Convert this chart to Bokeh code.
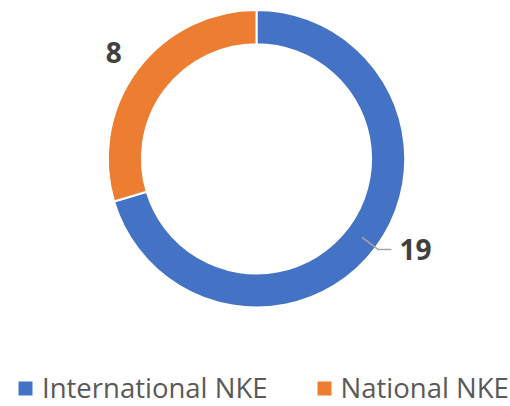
import numpy as np
from bokeh.plotting import figure
from bokeh.models import Range1d, Legend, LegendItem, ColumnDataSource
from bokeh.core.properties import value
from bokeh.embed import file_html
from bokeh.resources import INLINE

categories = ["International NKE", "National NKE"]
values = [19, 8]
colors = ["#4472C4", "#ED7D31"]

INNER_R = 114.6
OUTER_R = 148.7

total = float(sum(values))
cw_end = np.cumsum(values) / total * 2 * np.pi
cw_start = cw_end - np.array(values) / total * 2 * np.pi
start = np.pi / 2 - cw_end
end = np.pi / 2 - cw_start
mid = (start + end) / 2

p = figure(width=510, height=406, x_range=Range1d(-256, 254), y_range=Range1d(-247.7, 158.3),
           output_backend="svg", toolbar_location=None, min_border=0,
           x_axis_location=None, y_axis_location=None)
p.grid.visible = False
p.outline_line_color = None
p.background_fill_color = "white"

src = ColumnDataSource(dict(start=start, end=end, color=colors, label=categories))
r = p.annular_wedge(x=0, y=0, inner_radius=INNER_R, outer_radius=OUTER_R,
                    start_angle="start", end_angle="end", fill_color="color",
                    line_color="white", line_width=2, source=src)

lab_font = value("Open Sans")
# first slice: leader line + label on the right
m0 = mid[0]
rmid = (INNER_R + OUTER_R) / 2
x0, y0 = rmid * np.cos(m0), rmid * np.sin(m0)
x1, y1 = 152 * np.cos(m0), 152 * np.sin(m0)
x2, y2 = x1 + 13, y1
p.line([x0, x1, x2], [y0, y1, y2], line_color="#A6A6A6", line_width=1.5)
p.text(x=[x2 + 8], y=[y2], text=[str(values[0])], text_font=lab_font, text_font_style="bold",
       text_font_size="28px", text_color="#404040", text_align="left", text_baseline="middle")
# second slice label outside the ring
m1 = mid[1]
p.text(x=[178 * np.cos(m1)], y=[178 * np.sin(m1)], text=[str(values[1])], text_font=lab_font,
       text_font_style="bold", text_font_size="28px", text_color="#404040",
       text_align="center", text_baseline="middle")

legend = Legend(items=[LegendItem(label=c, renderers=[r], index=i) for i, c in enumerate(categories)],
                orientation="horizontal", location=(15, 0), glyph_width=20, glyph_height=20,
                label_standoff=7, spacing=46, padding=0, margin=0,
                border_line_alpha=0, background_fill_alpha=0,
                label_text_font="Open Sans", label_text_font_size="27.5px", label_text_color="#595959")
p.add_layout(legend)

open("out.html", "w").write(file_html(p, INLINE))
